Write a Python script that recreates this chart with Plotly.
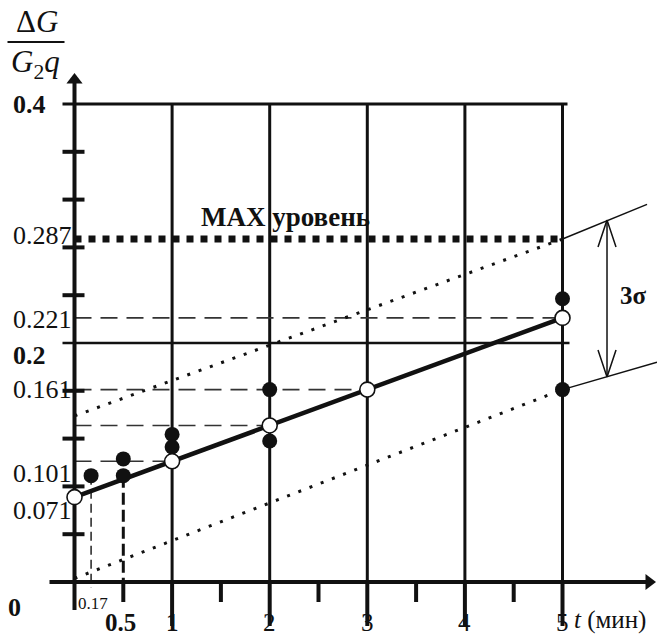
import plotly.graph_objects as go

# ---------------- data ----------------
t_mean = [0, 1, 2, 3, 5]
g_mean = [0.071, 0.101, 0.131, 0.161, 0.221]
t_obs = [0.17, 0.5, 0.5, 1, 1, 2, 2, 5, 5]
g_obs = [0.089, 0.103, 0.089, 0.1235, 0.113, 0.161, 0.118, 0.237, 0.161]
trend_t = [0, 5]
trend_g = [0.071, 0.221]
upper_t = [0, 5]
upper_g = [0.139, 0.287]
lower_t = [0, 5]
lower_g = [0.003, 0.161]
max_level = 0.287
max_t = [0, 5]
ext_upper_t = [5, 5.866]
ext_upper_g = [0.287, 0.316]
ext_lower_t = [5, 5.968]
ext_lower_g = [0.161, 0.184]
sigma_t = 5.456
sigma_g = [0.1716, 0.303]
ref_levels = [0.101, 0.131, 0.161, 0.221]
ref_level_t = [1, 2, 3, 5]
drop_t = [0.17, 0.5]
drop_g = [0.089, 0.089]
grid_t = [1, 2, 3, 4, 5]
solid_levels = [0.2, 0.4]
minor_y = [0.04, 0.08, 0.12, 0.16, 0.24, 0.28, 0.32, 0.36]
half_x = [1.5, 2.5, 3.5, 4.5]
y_tickvals = [0.4, 0.287, 0.221, 0.2, 0.161, 0.101, 0.071]
y_ticklabels = ["<b>0.4</b>", "0.287", "0.221", "<b>0.2</b>", "0.161", "0.101", "0.071"]
x_tickvals = [0.5, 1, 2, 3, 4, 5]
x_ticklabels = ["<b>0.5</b>", "<b>1</b>", "2", "3", "4", "5"]

# ---------------- scale helpers (pixel sizes -> data units) ----------------
PX_X = 97.6
PX_Y = 1195.0
X0_PX = 74.5
Y0_PX = 582.0
W, H = 657, 637
x_range = [-X0_PX / PX_X, (W - X0_PX) / PX_X]
y_range = [-(H - Y0_PX) / PX_Y, Y0_PX / PX_Y]
def dx(p): return p / PX_X
def dy(p): return p / PX_Y

FONT = "Liberation Serif"
INK = "#111111"

fig = go.Figure()

def segs(pairs):
    xs, ys = [], []
    for (x1, y1, x2, y2) in pairs:
        xs += [x1, x2, None]
        ys += [y1, y2, None]
    return xs, ys

def add_line(pairs, width, color=INK, dash="solid"):
    xs, ys = segs(pairs)
    fig.add_trace(go.Scatter(x=xs, y=ys, mode="lines",
                             line=dict(color=color, width=width, dash=dash),
                             hoverinfo="skip", showlegend=False))

# grid verticals
add_line([(t, 0, t, solid_levels[1]) for t in grid_t], 3)
# horizontal solid levels
add_line([(-dx(12), solid_levels[1], 5 + dx(5), solid_levels[1])], 3)
add_line([(-dx(12), solid_levels[0], 5 + dx(7), solid_levels[0])], 2.5)
# dashed reference levels
add_line([(0, g, t, g) for g, t in zip(ref_levels, ref_level_t)], 1.6, "#333333", "17px,9px")
# drops
add_line([(drop_t[0], drop_g[0], drop_t[0], -dy(6))], 1.5, "#222222", "9px,5px")
add_line([(drop_t[1], drop_g[1], drop_t[1], 0)], 3, INK, "12px,5px")
# y minor ticks
add_line([(-dx(12), v, dx(10), v) for v in minor_y], 4)
# x ticks
add_line([(t, 0, t, -dy(20)) for t in half_x], 4)
add_line([(drop_t[1], 0, drop_t[1], -dy(20))], 4)
add_line([(t, 0, t, -dy(44)) for t in grid_t], 4)
# axes
add_line([(0, -dy(28), 0, y_range[1] - dy(80))], 4)
add_line([(-dx(25), 0, x_range[1] - dx(8), 0)], 4)
fig.add_trace(go.Scatter(x=[0], y=[y_range[1] - dy(80)], mode="markers",
                         marker=dict(symbol="triangle-up", size=14, color=INK),
                         hoverinfo="skip", showlegend=False))
fig.add_trace(go.Scatter(x=[x_range[1] - dx(8)], y=[0], mode="markers",
                         marker=dict(symbol="triangle-right", size=14, color=INK),
                         hoverinfo="skip", showlegend=False))

# MAX level (square dots)
fig.add_trace(go.Scatter(x=max_t, y=[max_level, max_level], mode="lines",
                         line=dict(color=INK, width=7, dash="7px,7px"),
                         hoverinfo="skip", showlegend=False))
# confidence dotted lines
fig.add_trace(go.Scatter(x=upper_t, y=upper_g, mode="lines",
                         line=dict(color=INK, width=3, dash="3px,9px"),
                         hoverinfo="skip", showlegend=False))
fig.add_trace(go.Scatter(x=lower_t, y=lower_g, mode="lines",
                         line=dict(color=INK, width=3, dash="3px,9px"),
                         hoverinfo="skip", showlegend=False))
# extension thin lines
add_line([(ext_upper_t[0], ext_upper_g[0], ext_upper_t[1], ext_upper_g[1]),
          (ext_lower_t[0], ext_lower_g[0], ext_lower_t[1], ext_lower_g[1])], 1.5)
# 3 sigma double arrow
ax, ay = dx(9), dy(27)
add_line([(sigma_t, sigma_g[0], sigma_t, sigma_g[1]),
          (sigma_t - ax, sigma_g[1] - ay, sigma_t, sigma_g[1]),
          (sigma_t + ax, sigma_g[1] - ay, sigma_t, sigma_g[1]),
          (sigma_t - ax, sigma_g[0] + ay, sigma_t, sigma_g[0]),
          (sigma_t + ax, sigma_g[0] + ay, sigma_t, sigma_g[0])], 1.5)

# trend line
fig.add_trace(go.Scatter(x=trend_t, y=trend_g, mode="lines",
                         line=dict(color=INK, width=4.5),
                         hoverinfo="skip", showlegend=False))
# observed points
fig.add_trace(go.Scatter(x=t_obs, y=g_obs, mode="markers",
                         marker=dict(size=15, color=INK, line=dict(width=0)),
                         hoverinfo="skip", showlegend=False))
# mean points (open)
fig.add_trace(go.Scatter(x=t_mean, y=g_mean, mode="markers",
                         marker=dict(size=15, color="white", line=dict(width=1.6, color=INK)),
                         hoverinfo="skip", showlegend=False))

# fraction bar of the axis title
add_line([(-dx(67), y_range[1] - dy(42), -dx(10), y_range[1] - dy(42))], 2)

# ---------------- text ----------------
ann = []
y_shifts = [0, 4, -2, -12, 0, -12, -13]
for v, lab, s in zip(y_tickvals, y_ticklabels, y_shifts):
    ann.append(dict(x=-dx(64), y=v, text=lab, xanchor="left", yanchor="middle",
                    yshift=s, showarrow=False, font=dict(family=FONT, size=26, color=INK)))
x_shifts = [-3, 0, 0, 0, 0, 0]
for v, lab, s in zip(x_tickvals, x_ticklabels, x_shifts):
    ann.append(dict(x=v, y=-dy(40), text=lab, xanchor="center", yanchor="middle",
                    xshift=s, showarrow=False, font=dict(family=FONT, size=25, color=INK)))
ann.append(dict(x=drop_t[0], y=-dy(21), text="0.17", xanchor="center", yanchor="middle",
                xshift=2, showarrow=False, font=dict(family=FONT, size=17, color=INK)))
ann.append(dict(x=-dx(60), y=-dy(25), text="<b>0</b>", xanchor="center", yanchor="middle",
                showarrow=False, font=dict(family=FONT, size=26, color=INK)))
ann.append(dict(x=5 + dx(9), y=-dy(38), text="<i>t</i> (мин)", xanchor="left", yanchor="middle",
                showarrow=False, font=dict(family=FONT, size=25, color=INK)))
ann.append(dict(x=1.28, y=max_level, yshift=22, text="<b>MAX уровень</b>", xanchor="left",
                yanchor="middle", showarrow=False, font=dict(family=FONT, size=27, color=INK)))
ann.append(dict(x=sigma_t, y=(sigma_g[0] + sigma_g[1]) / 2, xshift=26, yshift=3,
                text="<b>3σ</b>", xanchor="center", yanchor="middle",
                showarrow=False, font=dict(family=FONT, size=25, color=INK)))
ann.append(dict(x=-dx(38), y=y_range[1] - dy(21), text="Δ<i>G</i>", xanchor="center",
                yanchor="middle", showarrow=False, font=dict(family=FONT, size=31, color=INK)))
ann.append(dict(x=-dx(39), y=y_range[1] - dy(64), text="<i>G</i><sub>2</sub><i>q</i>",
                xanchor="center", yanchor="middle", showarrow=False,
                font=dict(family=FONT, size=31, color=INK)))

fig.update_layout(
    width=W, height=H, autosize=False,
    margin=dict(l=0, r=0, t=0, b=0),
    paper_bgcolor="white", plot_bgcolor="white",
    xaxis=dict(range=x_range, visible=False, fixedrange=True),
    yaxis=dict(range=y_range, visible=False, fixedrange=True),
    annotations=ann, showlegend=False, hovermode=False,
)
fig.write_html("out.html", config={"displayModeBar": False, "staticPlot": True},
               post_script="document.body.style.margin='0';document.body.style.overflow='hidden';")
